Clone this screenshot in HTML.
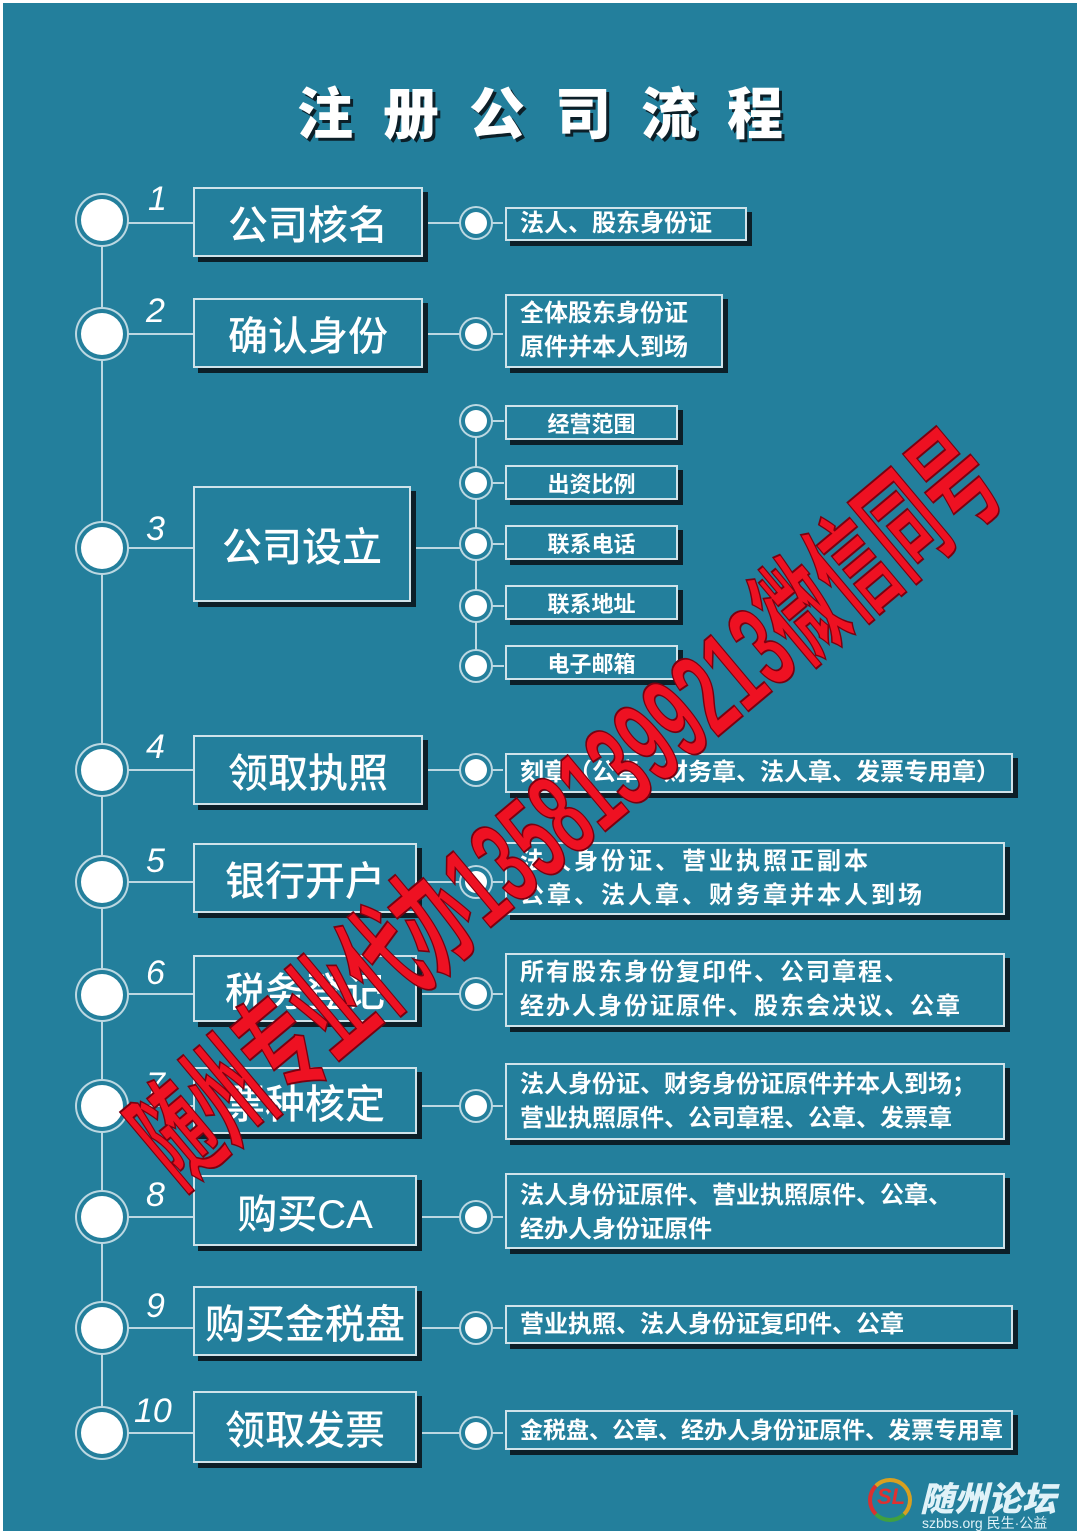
<!DOCTYPE html>
<html><head><meta charset="utf-8"><style>
*{margin:0;padding:0;box-sizing:border-box}
body{width:1080px;height:1534px;background:#fff;position:relative;overflow:hidden;font-family:"Liberation Sans","Noto Sans CJK SC",sans-serif}
#bg{position:absolute;left:3px;top:3px;width:1074px;height:1528px;background:#237f9c}
.t{position:absolute;color:#fff}
.box{position:absolute;border:2px solid #cfe3ea;box-shadow:5px 5px 0 #0c1f28;color:#fff;display:flex;align-items:center}
.main{justify-content:center;font-size:40px;font-weight:500}
.det{padding-left:13px;font-size:24px;font-weight:700;line-height:34px;white-space:nowrap}
.small{justify-content:center;font-size:22px;font-weight:700}
.c{position:absolute;border-radius:50%;background:#fff;box-shadow:0 0 0 4px #237f9c,0 0 0 6px #bcd8e2}
.ln{position:absolute;background:#bcd8e2}
.num{position:absolute;color:#fff;font-size:34px;font-style:italic}
</style></head><body>
<div id="bg"></div>
<div class="t" style="left:0;width:1080px;top:70px;text-align:center;font-size:56px;font-weight:900;letter-spacing:30px;text-shadow:3px 3px 0 #0c1f28;padding-left:30px">注册公司流程</div>

<div class="ln" style="left:101px;top:219px;width:2px;height:1214px"></div>
<div class="ln" style="left:475px;top:420px;width:2px;height:248px"></div>

<div class="ln" style="left:102px;top:222px;width:92px;height:2px"></div>
<div class="ln" style="left:102px;top:333px;width:92px;height:2px"></div>
<div class="ln" style="left:102px;top:547px;width:92px;height:2px"></div>
<div class="ln" style="left:102px;top:769px;width:92px;height:2px"></div>
<div class="ln" style="left:102px;top:881px;width:92px;height:2px"></div>
<div class="ln" style="left:102px;top:993px;width:92px;height:2px"></div>
<div class="ln" style="left:102px;top:1105px;width:92px;height:2px"></div>
<div class="ln" style="left:102px;top:1216px;width:92px;height:2px"></div>
<div class="ln" style="left:102px;top:1327px;width:92px;height:2px"></div>
<div class="ln" style="left:102px;top:1432px;width:92px;height:2px"></div>
<div class="ln" style="left:423px;top:222px;width:80px;height:2px"></div>
<div class="ln" style="left:423px;top:333px;width:80px;height:2px"></div>
<div class="ln" style="left:411px;top:547px;width:66px;height:2px"></div>
<div class="ln" style="left:476px;top:420px;width:28px;height:2px"></div>
<div class="ln" style="left:476px;top:482px;width:28px;height:2px"></div>
<div class="ln" style="left:476px;top:543px;width:28px;height:2px"></div>
<div class="ln" style="left:476px;top:605px;width:28px;height:2px"></div>
<div class="ln" style="left:476px;top:665px;width:28px;height:2px"></div>
<div class="ln" style="left:423px;top:769px;width:80px;height:2px"></div>
<div class="ln" style="left:423px;top:881px;width:80px;height:2px"></div>
<div class="ln" style="left:417px;top:993px;width:86px;height:2px"></div>
<div class="ln" style="left:417px;top:1105px;width:86px;height:2px"></div>
<div class="ln" style="left:417px;top:1216px;width:86px;height:2px"></div>
<div class="ln" style="left:417px;top:1327px;width:86px;height:2px"></div>
<div class="ln" style="left:417px;top:1432px;width:86px;height:2px"></div>

<div class="c" style="left:81px;top:199px;width:42px;height:42px"></div>
<div class="c" style="left:81px;top:313px;width:42px;height:42px"></div>
<div class="c" style="left:81px;top:527px;width:42px;height:42px"></div>
<div class="c" style="left:81px;top:749px;width:42px;height:42px"></div>
<div class="c" style="left:81px;top:861px;width:42px;height:42px"></div>
<div class="c" style="left:81px;top:974px;width:42px;height:42px"></div>
<div class="c" style="left:81px;top:1085px;width:42px;height:42px"></div>
<div class="c" style="left:81px;top:1196px;width:42px;height:42px"></div>
<div class="c" style="left:81px;top:1307px;width:42px;height:42px"></div>
<div class="c" style="left:81px;top:1412px;width:42px;height:42px"></div>
<div class="c" style="left:465px;top:212px;width:22px;height:22px"></div>
<div class="c" style="left:465px;top:323px;width:22px;height:22px"></div>
<div class="c" style="left:465px;top:410px;width:22px;height:22px"></div>
<div class="c" style="left:465px;top:472px;width:22px;height:22px"></div>
<div class="c" style="left:465px;top:533px;width:22px;height:22px"></div>
<div class="c" style="left:465px;top:595px;width:22px;height:22px"></div>
<div class="c" style="left:465px;top:655px;width:22px;height:22px"></div>
<div class="c" style="left:465px;top:759px;width:22px;height:22px"></div>
<div class="c" style="left:465px;top:871px;width:22px;height:22px"></div>
<div class="c" style="left:465px;top:983px;width:22px;height:22px"></div>
<div class="c" style="left:465px;top:1095px;width:22px;height:22px"></div>
<div class="c" style="left:465px;top:1206px;width:22px;height:22px"></div>
<div class="c" style="left:465px;top:1317px;width:22px;height:22px"></div>
<div class="c" style="left:465px;top:1422px;width:22px;height:22px"></div>

<div class="num" style="left:148px;top:180px">1</div>
<div class="num" style="left:146px;top:292px">2</div>
<div class="num" style="left:146px;top:510px">3</div>
<div class="num" style="left:146px;top:728px">4</div>
<div class="num" style="left:146px;top:842px">5</div>
<div class="num" style="left:146px;top:954px">6</div>
<div class="num" style="left:146px;top:1066px">7</div>
<div class="num" style="left:146px;top:1176px">8</div>
<div class="num" style="left:146px;top:1287px">9</div>
<div class="num" style="left:134px;top:1392px">10</div>

<div class="box main" style="left:193px;top:187px;width:230px;height:70px">公司核名</div>
<div class="box main" style="left:193px;top:298px;width:230px;height:70px">确认身份</div>
<div class="box main" style="left:193px;top:486px;width:218px;height:116px">公司设立</div>
<div class="box main" style="left:193px;top:735px;width:230px;height:70px">领取执照</div>
<div class="box main" style="left:193px;top:843px;width:224px;height:70px">银行开户</div>
<div class="box main" style="left:193px;top:955px;width:224px;height:67px">税务登记</div>
<div class="box main" style="left:193px;top:1067px;width:224px;height:67px">票种核定</div>
<div class="box main" style="left:193px;top:1175px;width:224px;height:71px">购买CA</div>
<div class="box main" style="left:193px;top:1286px;width:224px;height:70px">购买金税盘</div>
<div class="box main" style="left:193px;top:1391px;width:224px;height:72px">领取发票</div>

<div class="box det" style="left:505px;top:207px;width:242px;height:34px">法人、股东身份证</div>
<div class="box det" style="left:505px;top:294px;width:218px;height:74px">全体股东身份证<br>原件并本人到场</div>
<div class="box small" style="left:505px;top:405px;width:173px;height:35px">经营范围</div>
<div class="box small" style="left:505px;top:465px;width:173px;height:35px">出资比例</div>
<div class="box small" style="left:505px;top:525px;width:173px;height:35px">联系电话</div>
<div class="box small" style="left:505px;top:585px;width:173px;height:35px">联系地址</div>
<div class="box small" style="left:505px;top:645px;width:173px;height:35px">电子邮箱</div>
<div class="box det" style="left:505px;top:753px;width:508px;height:40px">刻章（公章、财务章、法人章、发票专用章）</div>
<div class="box det" style="left:505px;top:842px;width:500px;height:73px;letter-spacing:3px">法人身份证、营业执照正副本<br>公章、法人章、财务章并本人到场</div>
<div class="box det" style="left:505px;top:953px;width:500px;height:74px;letter-spacing:2px">所有股东身份复印件、公司章程、<br>经办人身份证原件、股东会决议、公章</div>
<div class="box det" style="left:505px;top:1063px;width:500px;height:77px">法人身份证、财务身份证原件并本人到场；<br>营业执照原件、公司章程、公章、发票章</div>
<div class="box det" style="left:505px;top:1173px;width:500px;height:76px;align-items:flex-start;padding-top:4px">法人身份证原件、营业执照原件、公章、<br>经办人身份证原件</div>
<div class="box det" style="left:505px;top:1305px;width:508px;height:39px">营业执照、法人身份证复印件、公章</div>
<div class="box det" style="left:505px;top:1410px;width:508px;height:40px;font-size:23px">金税盘、公章、经办人身份证原件、发票专用章</div>

<div style="position:absolute;left:567px;top:810px;width:0;height:0">
<div style="position:absolute;left:-1100px;top:-70px;width:2200px;text-align:center;transform:rotate(-40deg) scaleX(0.56);font-size:120px;font-weight:700;color:#ee1122;-webkit-text-stroke:2px #7a0010;white-space:nowrap;line-height:140px">随州专业代办13581399213微信同号</div>
</div>

<div style="position:absolute;left:868px;top:1478px;width:44px;height:44px;border-radius:50%;border:4px solid #d8a020;border-left-color:#d83030;border-bottom-color:#40a040"></div>
<div class="t" style="left:877px;top:1484px;font-size:22px;font-weight:900;font-style:italic;color:#e03030">SL</div>
<div class="t" style="left:920px;top:1472px;font-size:34px;font-weight:900;font-style:italic;color:#e0f2f8">随州论坛</div>
<div class="t" style="left:922px;top:1513px;font-size:14px;color:#e0f2f8">szbbs.org 民生·公益</div>
</body></html>
